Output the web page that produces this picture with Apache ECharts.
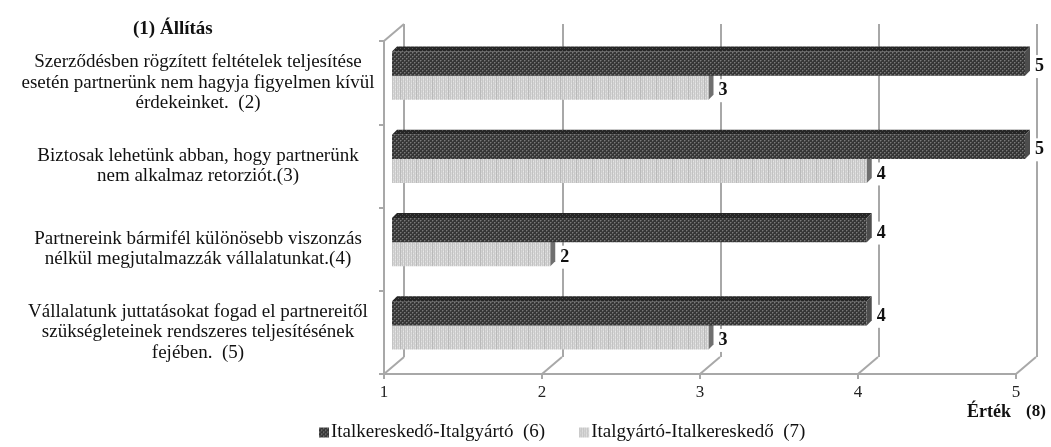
<!DOCTYPE html>
<html>
<head>
<meta charset="utf-8">
<script src="https://cdn.jsdelivr.net/npm/echarts@6/dist/echarts.min.js"></script>
<style>
  html, body { margin: 0; padding: 0; background: #ffffff; }
  #chart { width: 1051px; height: 447px; }
</style>
</head>
<body>
<div id="chart"></div>
<script>
// Statements (category axis, top to bottom)
const categories = [
  'Szerződésben rögzített feltételek teljesítése\nesetén partnerünk nem hagyja figyelmen kívül\nérdekeinket.  (2)',
  'Biztosak lehetünk abban, hogy partnerünk\nnem alkalmaz retorziót.(3)',
  'Partnereink bármifél különösebb viszonzás\nnélkül megjutalmazzák vállalatunkat.(4)',
  'Vállalatunk juttatásokat fogad el partnereitől\nszükségleteinek rendszeres teljesítésének\nfejében.  (5)'
];
const seriesNames = ['Italkereskedő-Italgyártó  (6)', 'Italgyártó-Italkereskedő  (7)'];
const retailerToProducer = [5, 5, 4, 4];
const producerToRetailer = [3, 4, 2, 3];
const valueTicks = [1, 2, 3, 4, 5];

const SERIF = '"Liberation Serif", "DejaVu Serif", serif';
const FRAME = '#a8a8a8';
const DEPTH = [20, -17];   // offset of the back wall from the front edge
const BAR_DEPTH = 5;       // visible thickness of each bar's top / side face

function texture(w, h, paint) {
  const c = document.createElement('canvas');
  c.width = w; c.height = h;
  paint(c.getContext('2d'));
  return c;
}
// dark dotted fill
const darkCanvas = texture(4, 4, ctx => {
  ctx.fillStyle = '#363636'; ctx.fillRect(0, 0, 4, 4);
  ctx.fillStyle = '#7a7a7a'; ctx.fillRect(0, 0, 1, 1); ctx.fillRect(2, 2, 1, 1);
  ctx.fillStyle = '#555555'; ctx.fillRect(1, 0, 1, 1); ctx.fillRect(3, 2, 1, 1);
  ctx.fillRect(0, 1, 1, 1); ctx.fillRect(2, 3, 1, 1);
});
const darkTopCanvas = texture(4, 4, ctx => {
  ctx.fillStyle = '#262626'; ctx.fillRect(0, 0, 4, 4);
  ctx.fillStyle = '#555555'; ctx.fillRect(0, 0, 1, 1); ctx.fillRect(2, 2, 1, 1);
});
// light vertically striped fill
const lightCanvas = texture(16, 4, ctx => {
  const cols = ['#b9b9b9', '#d2d2d2', '#c6c6c6', '#dadada', '#c2c2c2', '#d6d6d6', '#c8c8c8', '#dcdcdc',
                '#c4c4c4', '#d4d4d4', '#c9c9c9', '#dadada', '#c3c3c3', '#d5d5d5', '#cacaca', '#d8d8d8'];
  cols.forEach((col, i) => { ctx.fillStyle = col; ctx.fillRect(i, 0, 1, 4); });
  ctx.fillStyle = 'rgba(255,255,255,0.35)';
  for (let x = 1; x < 16; x += 4) { ctx.fillRect(x, 1, 1, 1); ctx.fillRect(x + 2, 3, 1, 1); }
});
const darkFill = { image: darkCanvas, repeat: 'repeat' };
const darkTopFill = { image: darkTopCanvas, repeat: 'repeat' };
const lightFill = { image: lightCanvas, repeat: 'repeat' };

const palette = [
  { front: darkFill, top: darkTopFill, side: '#4d4d4d' },
  { front: lightFill, top: '#a9a9a9', side: '#6f6f6f' }
];

function toPairs(values) { return values.map((v, i) => [v, i]); }

// one 3D-looking bar: front face, top face and right side face, plus value label
function barRenderer(slot) {
  return function (params, api) {
    const value = api.value(0);
    const cat = api.value(1);
    const start = api.coord([valueTicks[0], cat]);
    const end = api.coord([value, cat]);
    const band = api.size([0, 1])[1];
    const h = band * 0.29;
    const y0 = slot === 0 ? end[1] - h : end[1];
    const x0 = start[0], x1 = end[0], d = BAR_DEPTH;
    const col = palette[slot];
    return {
      type: 'group',
      children: [
        { type: 'polygon', shape: { points: [[x0, y0], [x0 + d, y0 - d], [x1 + d, y0 - d], [x1, y0]] },
          style: { fill: col.top } },
        { type: 'polygon', shape: { points: [[x1, y0], [x1 + d, y0 - d], [x1 + d, y0 + h - d], [x1, y0 + h]] },
          style: { fill: col.side } },
        { type: 'rect', shape: { x: x0, y: y0, width: x1 - x0, height: h },
          style: { fill: col.front } },
        { type: 'text', x: x1 + d + 2, y: y0 + h / 2 + 3,
          style: { text: String(value), font: 'bold 18px ' + SERIF, fill: '#111',
                   align: 'left', verticalAlign: 'middle',
                   backgroundColor: '#ffffff', padding: [3, 3, 2, 3] } }
      ]
    };
  };
}

const chart = echarts.init(document.getElementById('chart'), null, { renderer: 'canvas' });

const option = {
  animation: false,
  backgroundColor: '#ffffff',
  title: [
    { text: '{r|(1) }{b|Állítás}', left: 128, top: 15,
      textStyle: { rich: {
        r: { fontFamily: SERIF, fontSize: 19, color: '#111' },
        b: { fontFamily: SERIF, fontSize: 19, fontWeight: 'bold', color: '#111' } } } },
    { text: '{b|Érték}   {r|(8)}', left: 962, top: 398,
      textStyle: { rich: {
        r: { fontFamily: SERIF, fontSize: 17, color: '#111' },
        b: { fontFamily: SERIF, fontSize: 18, fontWeight: 'bold', color: '#111' } } } }
  ],
  legend: {
    left: 314, top: 418, itemWidth: 10, itemHeight: 10, itemGap: 34, icon: 'rect',
    textStyle: { fontFamily: SERIF, fontSize: 19, color: '#111', padding: [0, 0, 0, -3] },
    data: [
      { name: seriesNames[0], itemStyle: { color: darkFill } },
      { name: seriesNames[1], itemStyle: { color: lightFill } }
    ]
  },
  grid: [
    // back wall
    { left: 404, right: 14, top: 24, bottom: 90 },
    // front edge: axes, ticks and labels
    { left: 384, right: 35, top: 41, bottom: 73 },
    // plane the bars stand in
    { left: 392, right: 26, top: 34, bottom: 80 }
  ],
  xAxis: [
    { gridIndex: 0, type: 'value', min: 1, max: 5, interval: 1,
      axisLine: { show: false }, axisTick: { show: false }, axisLabel: { show: false },
      splitLine: { show: true, lineStyle: { color: FRAME, width: 2 } } },
    { gridIndex: 1, type: 'value', min: 1, max: 5, interval: 1,
      axisLine: { show: true, lineStyle: { color: FRAME, width: 2 } },
      axisTick: { show: true, length: 5, lineStyle: { color: FRAME, width: 2 } },
      axisLabel: { margin: 10, fontFamily: SERIF, fontSize: 17, color: '#222' },
      splitLine: { show: false } },
    { gridIndex: 2, type: 'value', min: 1, max: 5, interval: 1, show: false }
  ],
  yAxis: [
    { gridIndex: 0, type: 'category', data: categories, inverse: true, show: false },
    { gridIndex: 1, type: 'category', data: categories, inverse: true,
      axisLine: { show: true, lineStyle: { color: FRAME, width: 2 } },
      axisTick: { show: true, length: 5, lineStyle: { color: FRAME, width: 2 } },
      axisLabel: { align: 'center', margin: 186, lineHeight: 20.5,
                   fontFamily: SERIF, fontSize: 19, color: '#111' } },
    { gridIndex: 2, type: 'category', data: categories, inverse: true, show: false }
  ],
  series: [
    { name: seriesNames[0], type: 'custom', xAxisIndex: 2, yAxisIndex: 2, z: 4,
      itemStyle: { color: darkFill },
      encode: { x: 0, y: 1 }, data: toPairs(retailerToProducer), renderItem: barRenderer(0) },
    { name: seriesNames[1], type: 'custom', xAxisIndex: 2, yAxisIndex: 2, z: 3,
      itemStyle: { color: lightFill },
      encode: { x: 0, y: 1 }, data: toPairs(producerToRetailer), renderItem: barRenderer(1) },
    // floor and side-wall edges joining the front edge to the back wall
    { type: 'custom', xAxisIndex: 1, yAxisIndex: 1, z: 1, silent: true,
      encode: { x: 0, y: 1 }, data: valueTicks.map(v => [v, 0]),
      renderItem: function (params, api) {
        const rect = params.coordSys;
        const x = api.coord([api.value(0), 0])[0];
        const bottom = rect.y + rect.height;
        const lines = [
          { type: 'line', shape: { x1: x, y1: bottom, x2: x + DEPTH[0], y2: bottom + DEPTH[1] },
            style: { stroke: FRAME, lineWidth: 2 } }
        ];
        if (params.dataIndex === 0) {
          lines.push({ type: 'line',
            shape: { x1: rect.x, y1: rect.y, x2: rect.x + DEPTH[0], y2: rect.y + DEPTH[1] },
            style: { stroke: FRAME, lineWidth: 2 } });
        }
        return { type: 'group', children: lines };
      } }
  ]
};

chart.setOption(option);
</script>
</body>
</html>
